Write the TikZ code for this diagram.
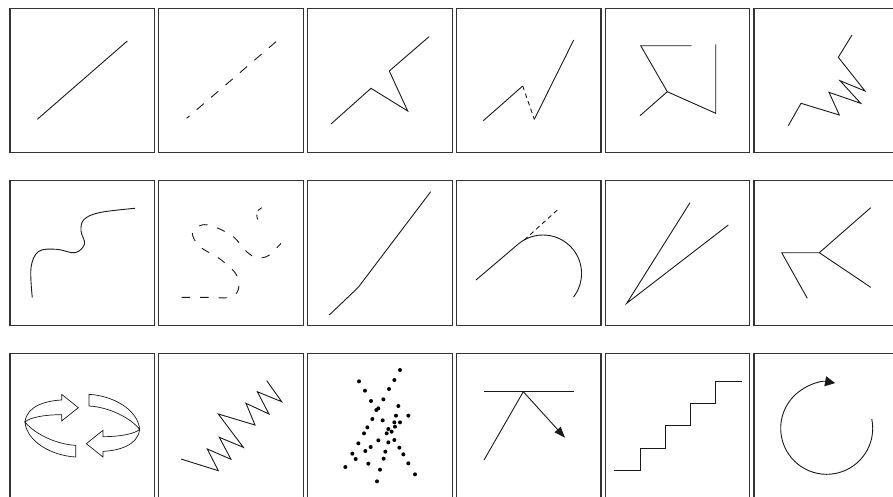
\documentclass[tikz,border=0pt]{standalone}
\usetikzlibrary{arrows.meta}
\begin{document}
\begin{tikzpicture}[x=1pt,y=-1pt,
  panel/.style={draw=black!80, line width=1.2pt},
  ln/.style={draw=black!90, line width=0.9pt, line join=miter},
  dsh/.style={ln, dash pattern=on 9.5pt off 9.5pt},
  fdsh/.style={ln, dash pattern=on 4.5pt off 3.5pt},
  rib/.style={draw=black!90, line width=0.7pt, fill=white, line join=miter},
  dot/.style={circle, fill=black, inner sep=0pt, minimum size=4pt}]
\useasboundingbox (0,0) rectangle (893,496);
\clip (0,0) rectangle (893,496);
\fill[white] (0,0) rectangle (893,496);
% panels
\foreach \i in {0,...,5}{\foreach \j in {0,1,2}{
  \draw[panel] ({10+148.8*\i},{8.3+172.5*\j}) rectangle ++(144.5,144.5);
}}
% row 1
\draw[ln] (37.3,119.3) -- (127.3,41);
\draw[dsh] (276,41.7) -- (186.7,118.3);
\draw[ln] (331,124) -- (371,88.3) -- (407.7,111) -- (389.3,71) -- (429,36.7);
\draw[ln] (483.3,120.7) -- (522.7,86);
\draw[fdsh] (522.7,86) -- (534.3,119.3);
\draw[ln] (534.3,119.3) -- (573.7,40);
\draw[ln] (691.7,45.7) -- (640.7,45.7) -- (667.3,91.7) -- (640,115.7);
\draw[ln] (667.3,91.7) -- (715.7,113.3) -- (715.7,44.3);
\draw[ln] (788.3,125.7) -- (801,103.3) -- (839.3,115) -- (829,92.3) -- (860.7,103.3) -- (840,80.7) -- (865,91) -- (838.3,57.3) -- (852,35);
% row 2
\draw[ln] plot[smooth, tension=0.6] coordinates {(32.3,297.7) (31,268) (38.5,251.5) (56.7,249.3) (75,252.7) (84.5,244) (81,231) (84,219.5) (100,212.5) (135,208.3)};
\draw[ln, dash pattern=on 8.5pt off 10pt] plot[smooth, tension=0.55] coordinates {(181.7,297.3) (205,297.3) (230,297.3) (238.5,289) (236,274) (220,259) (200,246.7) (192.3,233.3) (201.7,225) (215,227) (233.3,236.7) (246.7,251.7) (256.7,257.7) (268.3,255.7) (281,243.3)};
\draw[ln, dash pattern=on 5pt off 4pt] (261.7,207.7) .. controls (256,210) and (255,217) .. (259.3,221.7);
\draw[ln] (329.3,315) -- (358.3,287.3) -- (430.7,191.7);
\draw[ln] (476,280) -- (518.3,244) arc[start angle=-130, end angle=37.7, radius=38.5];
\draw[fdsh] (524.3,240) -- (557.3,210);
\draw[ln] (690,202.7) -- (626.7,303.3) -- (728.3,225);
\draw[ln] (807.3,298.3) -- (781.7,252.7) -- (819.3,252.7) -- (870.7,207.7);
\draw[ln] (819.3,252.7) -- (870.7,287.3);
% row 3: rotating arrows
\begin{scope}[shift={(15,385)}, scale=0.3333]
  \foreach \r in {0,180}{
  \begin{scope}[rotate around={\r:(202,122)}]
    \draw[rib] (30,111) .. controls (35,62) and (95,47) .. (140,45) -- (140,28) -- (190,68) -- (140,108) -- (140,89) .. controls (90,89) and (45,97) .. (30,111) -- cycle;
    \draw[rib] (30,111) .. controls (60,148) and (125,178) .. (182,181) -- (182,216) .. controls (110,212) and (35,170) .. (30,111) -- cycle;
  \end{scope}}
\end{scope}
% zigzag
\draw[ln] (181,459) -- (218.3,470.7) -- (207.3,449) -- (231,459.3) -- (219.3,437.3) -- (243.3,447.3) -- (218.3,414) -- (255,425) -- (246,403.3) -- (269,414) -- (257.3,391.7) -- (281.7,401.7) -- (266.7,380.7);
% dots
\foreach \px/\py [count=\k] in {195/30, 178/60, 72/64, 162/87, 90/92, 145/118, 108/123, 130/145, 124/150, 190/138, 220/167, 183/167, 112/177, 143/181, 178/187, 195/187, 97/202, 180/200, 160/207, 170/215, 155/220, 87/220, 130/241, 160/247, 178/240, 70/250, 107/261, 193/263, 91/273, 151/275, 52/281, 205/283, 62/297, 146/296, 100/311, 220/310, 31/321, 135/329, 240/343, 126/364}
  \node[dot] (d\k) at ({335+\px/3},{360+\py/3}) {};
% reflection
\draw[ln] (484,391.7) -- (574,391.7);
\draw[ln, -{Triangle[length=11pt,width=8pt]}] (484,460) -- (523.3,391.7) -- (565,437.7);
% staircase
\draw[ln] (614,470.7) -- (640,470.7) -- (640,448.3) -- (665,448.3) -- (665,425.7) -- (690,425.7) -- (690,403.3) -- (715.7,403.3) -- (715.7,381) -- (741.7,381);
% circular arrow
\coordinate (cc) at (826.7,428.3);
\draw[ln, -{Triangle[length=10pt,width=10pt]}] (cc) ++(-11.5:46) arc[start angle=-11.5, end angle=280.5, radius=46];
\end{tikzpicture}
\end{document}
